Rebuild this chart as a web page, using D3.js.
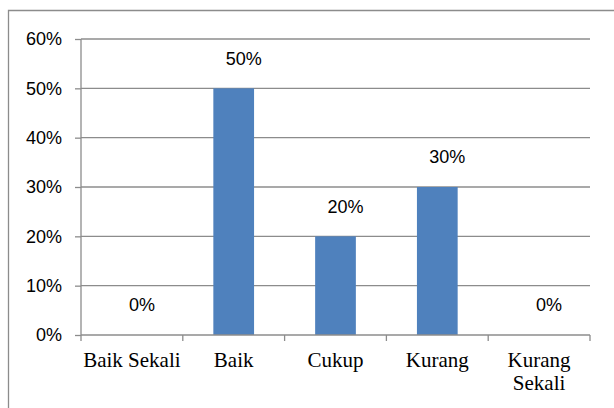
<!DOCTYPE html>
<html><head><meta charset="utf-8">
<script src="https://d3js.org/d3.v7.min.js"></script>
<style>body{margin:0;background:#fff}svg{display:block}</style>
</head><body>
<script>
const categories = ["Baik Sekali", "Baik", "Cukup", "Kurang", "Kurang Sekali"];
const values = [0, 50, 20, 30, 0];
const yTicks = [0, 10, 20, 30, 40, 50, 60];

const W = 614, H = 408;
const svg = d3.select("body").append("svg").attr("width", W).attr("height", H);

// outer border (right and bottom cut off)
svg.append("path").attr("d", "M8.5,420V10.5H630").attr("fill", "none")
  .attr("stroke", "#8c8c8c").attr("stroke-width", 1.3);

const m = {left: 81, right: 590, top: 39, bottom: 335};
const xb = d3.scaleBand().domain(categories).range([m.left, m.right]);
const y = d3.scaleLinear().domain([0, 60]).range([m.bottom, m.top]);
const sans = "Liberation Sans, Arial, sans-serif";
const serif = "Liberation Serif, Times New Roman, serif";

// gridlines
svg.append("g").selectAll("line").data(yTicks.filter(t => t > 0)).join("line")
  .attr("x1", m.left).attr("x2", m.right)
  .attr("y1", d => y(d)).attr("y2", d => y(d))
  .attr("stroke", "#8c8c8c").attr("stroke-width", 1.3);

// bars
svg.append("g").selectAll("rect").data(values).join("rect")
  .attr("x", (d, i) => xb(categories[i]) + xb.bandwidth() * 0.3)
  .attr("width", xb.bandwidth() * 0.4)
  .attr("y", d => y(d)).attr("height", d => y(0) - y(d))
  .attr("fill", "#4f81bd");

// y axis
const yAxis = svg.append("g").attr("transform", `translate(${m.left},0)`)
  .call(d3.axisLeft(y).tickValues(yTicks).tickFormat(d => d + "%").tickSize(6).tickPadding(13));
yAxis.attr("font-size", null).attr("font-family", null);
yAxis.select(".domain").attr("stroke", "#8c8c8c").attr("stroke-width", 1.3).attr("d", `M0,${m.top}V${m.bottom}`);
yAxis.selectAll(".tick line").attr("stroke", "#8c8c8c").attr("stroke-width", 1.3);
yAxis.selectAll("text").style("font-family", sans).style("font-size", "18px").attr("fill", "#000");

// x axis
const xAxis = svg.append("g").attr("transform", `translate(0,${m.bottom})`);
xAxis.append("line").attr("x1", m.left).attr("x2", m.right).attr("stroke", "#8c8c8c").attr("stroke-width", 1.3);
const edges = categories.map(c => xb(c)).concat([m.right]);
xAxis.selectAll(".tk").data(edges).join("line").attr("class", "tk")
  .attr("x1", d => d).attr("x2", d => d).attr("y1", 0).attr("y2", 6)
  .attr("stroke", "#8c8c8c").attr("stroke-width", 1.3);

const lines = {"Kurang Sekali": ["Kurang", "Sekali"]};
categories.forEach(c => {
  const cx = xb(c) + xb.bandwidth() / 2;
  const t = xAxis.append("text").attr("x", cx).attr("y", 32)
    .attr("text-anchor", "middle").style("font-family", serif)
    .style("font-size", "21px").attr("fill", "#000");
  const ls = lines[c] || [c];
  ls.forEach((l, i) => t.append("tspan").attr("x", cx).attr("dy", i ? 23 : 0).text(l));
});

// data labels
svg.append("g").selectAll("text").data(values).join("text")
  .attr("x", (d, i) => xb(categories[i]) + xb.bandwidth() / 2 + 10)
  .attr("y", d => y(d) - 30)
  .attr("dy", "0.35em").attr("text-anchor", "middle")
  .style("font-family", sans).style("font-size", "18px").attr("fill", "#000")
  .text(d => d + "%");
</script>
</body></html>
